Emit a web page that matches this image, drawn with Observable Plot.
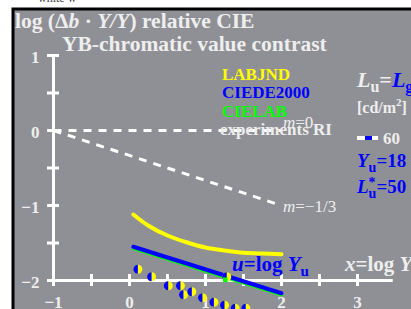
<!DOCTYPE html>
<html><head><meta charset="utf-8">
<script src="https://cdn.jsdelivr.net/npm/d3@7"></script>
<script src="https://cdn.jsdelivr.net/npm/@observablehq/plot@0.6"></script>
<style>
html,body{margin:0;padding:0;background:#fff;overflow:hidden}
svg{display:block}
</style></head><body><div id="chart"></div>
<script>
// ---- data ----
const xTicks = [-1, -0.5, 0, 0.5, 1, 1.5, 2, 2.5, 3];
const xTickLabels = [-1, 0, 1, 2, 3];
const yTicks = [1, 0.5, 0, -0.5, -1, -1.5, -2];
const yTickLabels = [1, 0, -1, -2];
const axisXEnd = 3.47;

const labjndX = [0.05, 0.25, 0.5, 0.75, 1.0, 1.25, 1.5, 1.75, 2.0];
const labjndY = [-1.12, -1.27, -1.40, -1.49, -1.56, -1.60, -1.63, -1.64, -1.65];
const ciede2000X = [0.05, 2.0];
const ciede2000Y = [-1.55, -2.17];
const cielabX = [0.05, 2.0];
const cielabY = [-1.575, -2.195];

const riX = [0.11, 0.29, 0.51, 0.67, 0.71, 0.82, 0.96, 1.11, 1.25, 1.39, 1.53, 1.28];
const riY = [-1.85, -1.95, -2.07, -2.07, -2.19, -2.15, -2.23, -2.29, -2.33, -2.37, -2.37, -1.95];
const markX = [1.26];
const markY = [-1.99];

const refStartX = [-1, -1], refStartY = [0, 0];
const refEndX = [2, 2], refEndY = [0, -1];
const refLabels = [["m", "=0"], ["m", "=−1/3"]];

// ---- build tables ----
const labjnd = labjndX.map((x, i) => ({x, y: labjndY[i]}));
const ciede = ciede2000X.map((x, i) => ({x, y: ciede2000Y[i]}));
const cielab = cielabX.map((x, i) => ({x, y: cielabY[i]}));
const ri = riX.map((x, i) => ({x, y: riY[i]}));
const mark = markX.map((x, i) => ({x, y: markY[i]}));
const refs = refStartX.map((x, i) => ({x1: x, y1: refStartY[i], x2: refEndX[i], y2: refEndY[i]}));

const WHITE = "#ffffff", TXT = "#eeeeee";
const halfLeft = {
  draw(ctx, size) {
    const r = Math.sqrt(size / Math.PI);
    ctx.moveTo(0, -r);
    ctx.arc(0, 0, r, -Math.PI / 2, Math.PI / 2, true);
    ctx.closePath();
  }
};
const fmt = d => d < 0 ? "−" + Math.abs(d) : String(d);
const FONT = "'Liberation Serif', 'DejaVu Serif', serif";

const plot = Plot.plot({
  width: 411, height: 309, margin: 0,
  style: {background: "transparent", fontFamily: FONT},
  x: {domain: [-1, 3], range: [53, 357], axis: null},
  y: {domain: [-2, 1], range: [280, 55], axis: null},
  marks: [
    Plot.frame({fill: "#8f9095", stroke: "#000", strokeWidth: 3, insetLeft: 12.5, insetTop: 8.5, insetRight: -5, insetBottom: -5}),
    Plot.link(refs, {x1: "x1", y1: "y1", x2: "x2", y2: "y2", stroke: WHITE, strokeWidth: 3, strokeDasharray: "8,7"}),
    Plot.ruleY([-2], {x1: -1, x2: axisXEnd, stroke: WHITE, strokeWidth: 3}),
    Plot.ruleX([-1], {y1: -2, y2: 1, stroke: WHITE, strokeWidth: 3}),
    Plot.ruleX(xTicks, {x: d => d, y1: -2, y2: -2, insetTop: -6, insetBottom: -6, stroke: WHITE, strokeWidth: 3}),
    Plot.ruleY(yTicks, {y: d => d, x1: -1, x2: -1, insetLeft: -6, insetRight: -6, stroke: WHITE, strokeWidth: 3}),
    Plot.text(xTickLabels, {x: d => d, y: -2, text: fmt, dy: 22, fill: TXT, fontSize: 17, fontWeight: "bold"}),
    Plot.text(yTickLabels, {x: -1, y: d => d, text: fmt, dx: -14, dy: 2, textAnchor: "end", fill: TXT, fontSize: 17, fontWeight: "bold"}),
    Plot.line(labjnd, {x: "x", y: "y", stroke: "#ffff00", strokeWidth: 4, curve: "natural"}),
    Plot.line(cielab, {x: "x", y: "y", stroke: "#00ff00", strokeWidth: 3}),
    Plot.line(ciede, {x: "x", y: "y", stroke: "#0000ff", strokeWidth: 4}),
    Plot.dot(ri, {x: "x", y: "y", r: 4.5, fill: "#ffff00"}),
    Plot.dot(ri, {x: "x", y: "y", r: 4.5, fill: "#0000ff", symbol: halfLeft}),
    Plot.dot(mark, {x: "x", y: "y", r: 2.6, fill: "#00ff00", symbol: "square"})
  ]
});
document.getElementById("chart").appendChild(plot);

const svg = d3.select(plot);
const sx = v => plot.scale("x").apply(v), sy = v => plot.scale("y").apply(v);

function rich(x, y, parts, o) {
  const t = svg.append("text").attr("x", x).attr("y", y)
    .attr("text-anchor", "start")
    .style("font-family", FONT).style("font-weight", o.weight || "bold")
    .style("font-size", o.size + "px").attr("fill", o.fill || TXT);
  for (const p of parts) {
    const s = t.append("tspan").text(p.t);
    if (p.i) s.style("font-style", "italic");
    if (p.fill) s.attr("fill", p.fill);
    if (p.size) s.style("font-size", p.size + "px");
    if (p.dy) s.attr("dy", p.dy);
    if (p.dx) s.attr("dx", p.dx);
  }
  return t;
}

// clipped text at the top
rich(38, 2, [{t: "white w"}], {size: 12, fill: "#444", weight: "normal"});

// titles
rich(15, 28, [{t: "log (Δ"}, {t: "b", i: 1}, {t: " · "}, {t: "Y/Y", i: 1}, {t: ") relative CIE"}], {size: 21.5});
rich(62, 51, [{t: "YB-chromatic value contrast"}], {size: 21.5});

// legend
rich(222, 80, [{t: "LABJND"}], {size: 17, fill: "#ffff00"});
rich(222, 98, [{t: "CIEDE2000"}], {size: 17, fill: "#0000ff"});
rich(222, 117, [{t: "CIELAB"}], {size: 17, fill: "#00ff00"});
rich(220, 135, [{t: "experiments RI"}], {size: 17});

// reference line labels
refs.forEach((r, i) => {
  rich(sx(r.x2) + 2, sy(r.y2) + (i === 0 ? -2 : 7), [{t: refLabels[i][0], i: 1}, {t: refLabels[i][1]}], {size: 17, weight: "normal"});
});

// right-hand legend
rich(357, 87, [{t: "L", i: 1}, {t: "u", size: 16, dy: 5}, {t: "=", dy: -5}, {t: "L", i: 1, fill: "#0000ff"}, {t: "g", size: 16, dy: 5, fill: "#0000ff"}], {size: 22});
rich(357, 113, [{t: "[cd/m"}, {t: "2", size: 11, dy: -7}, {t: "]", dy: 7}], {size: 16});
svg.append("line").attr("x1", 357).attr("x2", 378).attr("y1", 138).attr("y2", 138).attr("stroke", WHITE).attr("stroke-width", 4);
svg.append("line").attr("x1", 365).attr("x2", 372).attr("y1", 138).attr("y2", 138).attr("stroke", "#0000ff").attr("stroke-width", 4);
rich(383, 144, [{t: "60"}], {size: 17});
rich(357, 167, [{t: "Y", i: 1}, {t: "u", size: 14, dy: 5}, {t: "=18", dy: -5}], {size: 19, fill: "#0000ff"});
rich(357, 193, [{t: "L", i: 1}, {t: "*", size: 14, dy: -6}, {t: "u", size: 14, dy: 11, dx: -7}, {t: "=50", dy: -5}], {size: 19, fill: "#0000ff"});

// axis names
rich(232, 271, [{t: "u", i: 1}, {t: "=log "}, {t: "Y", i: 1}, {t: "u", size: 15, dy: 5}], {size: 21, fill: "#0000ff"});
rich(345, 271, [{t: "x", i: 1}, {t: "=log "}, {t: "Y", i: 1}], {size: 21});
</script>
</body></html>
